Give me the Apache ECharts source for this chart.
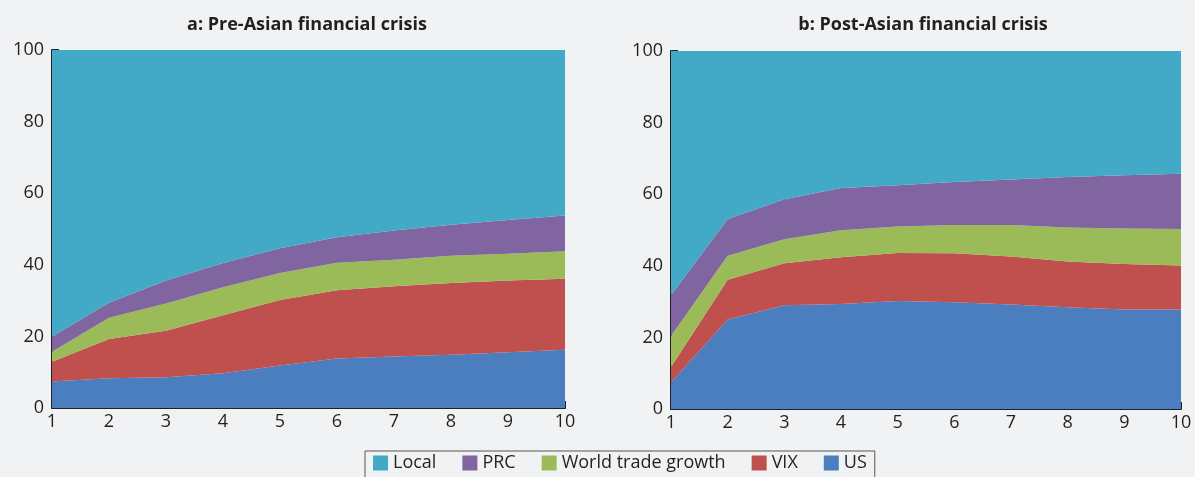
<!DOCTYPE html>
<html>
<head>
<meta charset="utf-8">
<script src="https://cdn.jsdelivr.net/npm/echarts@6/dist/echarts.min.js"></script>
<style>
  html, body { margin: 0; padding: 0; background: #f1f2f4; }
  #chart { width: 1195px; height: 477px; }
</style>
</head>
<body>
<div id="chart"></div>
<script>
// horizon (periods) on the x axis
const horizons = ['1', '2', '3', '4', '5', '6', '7', '8', '9', '10']
const yTicks = [0, 20, 40, 60, 80, 100]

// panel a: pre-Asian financial crisis (share of variance, %)
const preUS = [7.4, 8.3, 8.6, 9.7, 11.9, 13.8, 14.4, 14.9, 15.6, 16.3]
const preVIX = [5.5, 11.0, 13.0, 16.2, 18.3, 19.1, 19.6, 20.0, 20.0, 19.8]
const preTrade = [2.8, 5.9, 7.6, 7.8, 7.5, 7.7, 7.4, 7.6, 7.5, 7.7]
const prePRC = [4.3, 4.2, 6.4, 6.8, 6.9, 7.1, 8.2, 8.7, 9.4, 10.0]
const preLocal = [80.0, 70.6, 64.4, 59.5, 55.4, 52.3, 50.4, 48.8, 47.5, 46.2]

// panel b: post-Asian financial crisis
const postUS = [7.5, 25.0, 29.0, 29.3, 30.2, 29.8, 29.2, 28.4, 27.8, 27.8]
const postVIX = [4.2, 11.1, 11.7, 13.1, 13.4, 13.7, 13.4, 12.8, 12.7, 12.3]
const postTrade = [8.7, 6.7, 6.7, 7.5, 7.4, 7.9, 8.8, 9.5, 9.9, 10.2]
const postPRC = [11.4, 10.3, 11.2, 11.8, 11.5, 12.0, 12.7, 14.1, 14.9, 15.4]
const postLocal = [68.2, 46.9, 41.4, 38.3, 37.5, 36.6, 35.9, 35.2, 34.7, 34.3]

const legendNames = ['Local', 'PRC', 'World trade growth', 'VIX', 'US']
const colors = {
  'Local': '#42aac7',
  'PRC': '#8065a1',
  'World trade growth': '#9bbb59',
  'VIX': '#c0504e',
  'US': '#4a7ebf'
}

const FONT = '"Open Sans", sans-serif'
const TEXT = '#231f20'

function makeX (idx) {
  return {
    type: 'category',
    gridIndex: idx,
    data: horizons,
    boundaryGap: false,
    axisLine: { lineStyle: { color: '#231f20', width: 2 } },
    axisTick: { inside: true, length: 7, lineStyle: { color: '#231f20', width: 2 } },
    axisLabel: { color: TEXT, fontSize: 18, fontFamily: FONT, margin: 5 },
    splitLine: { show: false }
  }
}

function makeY (idx) {
  return {
    type: 'value',
    gridIndex: idx,
    min: yTicks[0],
    max: yTicks[yTicks.length - 1],
    interval: 20,
    axisLine: { show: true, lineStyle: { color: '#231f20', width: 2 } },
    axisTick: { show: true, inside: true, length: 7, lineStyle: { color: '#231f20', width: 2 } },
    axisLabel: { color: TEXT, fontSize: 18, fontFamily: FONT, margin: 8 },
    splitLine: { show: false }
  }
}

function makeSeries (name, data, idx) {
  return {
    name: name,
    type: 'line',
    xAxisIndex: idx,
    yAxisIndex: idx,
    stack: 'panel' + idx,
    data: data,
    showSymbol: false,
    symbol: 'none',
    lineStyle: { width: 0 },
    areaStyle: { color: colors[name], opacity: 1 },
    itemStyle: { color: colors[name] },
    emphasis: { disabled: true },
    z: 1
  }
}

const chart = echarts.init(document.getElementById('chart'))
chart.setOption({
  backgroundColor: '#f1f2f4',
  animation: false,
  title: [
    {
      text: 'a: Pre-Asian financial crisis',
      left: 302, top: 11, textAlign: 'center',
      textStyle: { fontSize: 18, fontWeight: 'bold', color: TEXT, fontFamily: FONT }
    },
    {
      text: 'b: Post-Asian financial crisis',
      left: 918, top: 11, textAlign: 'center',
      textStyle: { fontSize: 18, fontWeight: 'bold', color: TEXT, fontFamily: FONT }
    }
  ],
  legend: {
    data: legendNames,
    left: 365,
    top: 451,
    itemWidth: 15,
    itemHeight: 15,
    itemGap: 26,
    icon: 'rect',
    padding: [3, 8, 6, 8],
    borderColor: '#555',
    borderWidth: 1,
    textStyle: { color: TEXT, fontSize: 18, fontFamily: FONT }
  },
  grid: [
    { left: 52, right: 630, top: 50, bottom: 69 },
    { left: 671, right: 14, top: 51, bottom: 68 }
  ],
  xAxis: [makeX(0), makeX(1)],
  yAxis: [makeY(0), makeY(1)],
  series: [
    makeSeries('US', preUS, 0),
    makeSeries('VIX', preVIX, 0),
    makeSeries('World trade growth', preTrade, 0),
    makeSeries('PRC', prePRC, 0),
    makeSeries('Local', preLocal, 0),
    makeSeries('US', postUS, 1),
    makeSeries('VIX', postVIX, 1),
    makeSeries('World trade growth', postTrade, 1),
    makeSeries('PRC', postPRC, 1),
    makeSeries('Local', postLocal, 1)
  ]
})
</script>
</body>
</html>
